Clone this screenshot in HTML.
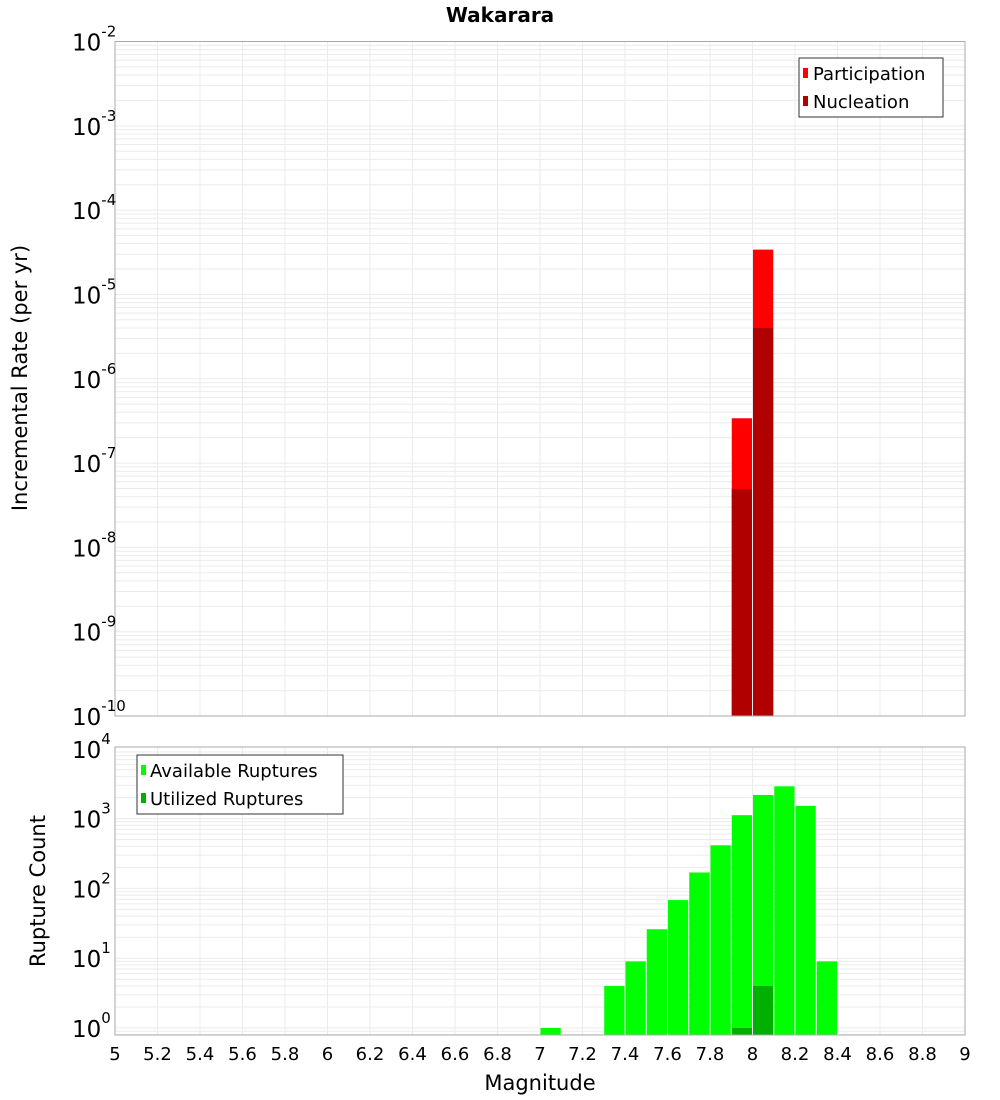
<!DOCTYPE html>
<html><head><meta charset="utf-8"><style>
body{margin:0;background:#fff;}
svg{display:block;font-family:"DejaVu Sans","Liberation Sans",sans-serif;}
</style></head><body>
<svg id="c" width="1000" height="1100" xmlns="http://www.w3.org/2000/svg"></svg>
<script>
const topMags = [7.95, 8.05];
const participation = [3.4e-7, 3.4e-5];
const nucleation = [4.9e-8, 4.0e-6];
const botMags = [7.05, 7.35, 7.45, 7.55, 7.65, 7.75, 7.85, 7.95, 8.05, 8.15, 8.25, 8.35];
const available = [1, 4, 9, 26, 68, 169, 415, 1120, 2180, 2900, 1520, 9];
const utilMags = [7.95, 8.05];
const utilized = [1, 4];
const xTicks = ["5","5.2","5.4","5.6","5.8","6","6.2","6.4","6.6","6.8","7","7.2","7.4","7.6","7.8","8","8.2","8.4","8.6","8.8","9"];
const topExps = [-10,-9,-8,-7,-6,-5,-4,-3,-2];
const botExps = [0,1,2,3,4];

const NS="http://www.w3.org/2000/svg", svg=document.getElementById('c');
function mk(t,a,p){const e=document.createElementNS(NS,t);for(const k in a)e.setAttribute(k,a[k]);(p||svg).appendChild(e);return e;}
const X0=115,X1=965;
const x=m=>X0+(m-5)/4*(X1-X0);
const T0=41.5,T1=716;
const yT=v=>T1-(Math.log10(v)+10)/8*(T1-T0);
const B0=747,B1=1035,bDec=69.8,bBase=1028;
const yB=v=>bBase-Math.log10(v)*bDec;

function grid(g,yf,lo,hi,top,bot){
  for(let e=lo;e<hi;e++)for(let k=1;k<10;k++){const yy=yf(k*Math.pow(10,e));if(yy>=top&&yy<=bot)mk('line',{x1:X0,x2:X1,y1:yy,y2:yy,stroke:'#ebebeb','stroke-width':1},g);}
  for(let i=0;i<xTicks.length;i++){const xx=x(+xTicks[i]);mk('line',{x1:xx,x2:xx,y1:top,y2:bot,stroke:'#ebebeb','stroke-width':1},g);}
}
// title
let t=mk('text',{x:500,y:22,'text-anchor':'middle','font-size':20,'font-weight':'bold'});t.textContent='Wakarara';


// top panel
const gt=mk('g',{});
grid(gt,yT,-10,-2,T0,T1);
for(let i=0;i<topMags.length;i++){
  const xl=x(topMags[i]-0.05)+0.5,w=x(topMags[i]+0.05)-x(topMags[i]-0.05)-1;
  let r=mk('rect',{x:xl,y:yT(participation[i]),width:w,height:T1-yT(participation[i]),fill:'#ff0000'},gt);
  
  r=mk('rect',{x:xl,y:yT(nucleation[i]),width:w,height:T1-yT(nucleation[i]),fill:'#b00000'},gt);
  
}
mk('rect',{x:X0,y:T0,width:X1-X0,height:T1-T0,fill:'none',stroke:'#aaa'},gt);
topExps.forEach(e=>{const yy=yT(Math.pow(10,e));const tt=mk('text',{x:72,y:yy+9,'font-size':23},gt);
  tt.innerHTML='10<tspan dy="-14" font-size="15">'+e+'</tspan>';});
t=mk('text',{transform:'translate(27,378) rotate(-90)','text-anchor':'middle','font-size':21});t.textContent='Incremental Rate (per yr)';

// legend top
const lg=mk('g',{});
mk('rect',{x:799,y:58,width:144,height:59,fill:'#fff',stroke:'#333'},lg);
mk('rect',{x:803,y:68,width:5,height:10,fill:'#ff0000'},lg);
t=mk('text',{x:813,y:80,'font-size':18},lg);t.textContent='Participation';
mk('rect',{x:803,y:96,width:5,height:10,fill:'#b00000'},lg);
t=mk('text',{x:813,y:108,'font-size':18},lg);t.textContent='Nucleation';

// bottom panel
const gb=mk('g',{});
grid(gb,yB,-1,4,B0,B1);
for(let i=0;i<botMags.length;i++){
  const xl=x(botMags[i]-0.05)+0.5,w=x(botMags[i]+0.05)-x(botMags[i]-0.05)-1;
  const r=mk('rect',{x:xl,y:yB(available[i]),width:w,height:B1-yB(available[i]),fill:'#00ff00'},gb);
  
}
for(let i=0;i<utilMags.length;i++){
  const xl=x(utilMags[i]-0.05)+0.5,w=x(utilMags[i]+0.05)-x(utilMags[i]-0.05)-1;
  const r=mk('rect',{x:xl,y:yB(utilized[i]),width:w,height:B1-yB(utilized[i]),fill:'#00b000'},gb);
  
}
mk('rect',{x:X0,y:B0,width:X1-X0,height:B1-B0,fill:'none',stroke:'#aaa'},gb);
botExps.forEach(e=>{const yy=yB(Math.pow(10,e));const tt=mk('text',{x:72,y:yy+9,'font-size':23},gb);
  tt.innerHTML='10<tspan dy="-14" font-size="15">'+e+'</tspan>';});
t=mk('text',{transform:'translate(45,891) rotate(-90)','text-anchor':'middle','font-size':21});t.textContent='Rupture Count';

xTicks.forEach(s=>{const tt=mk('text',{x:x(+s),y:1060,'text-anchor':'middle','font-size':18});tt.textContent=s;
  });
t=mk('text',{x:540,y:1090,'text-anchor':'middle','font-size':21});t.textContent='Magnitude';

const lb=mk('g',{});
mk('rect',{x:137,y:755,width:206,height:59,fill:'#fff',stroke:'#333'},lb);
mk('rect',{x:141,y:765,width:5,height:10,fill:'#00ff00'},lb);
t=mk('text',{x:150,y:777,'font-size':18},lb);t.textContent='Available Ruptures';
mk('rect',{x:141,y:793,width:5,height:10,fill:'#00b000'},lb);
t=mk('text',{x:150,y:805,'font-size':18},lb);t.textContent='Utilized Ruptures';
</script>
</body></html>
